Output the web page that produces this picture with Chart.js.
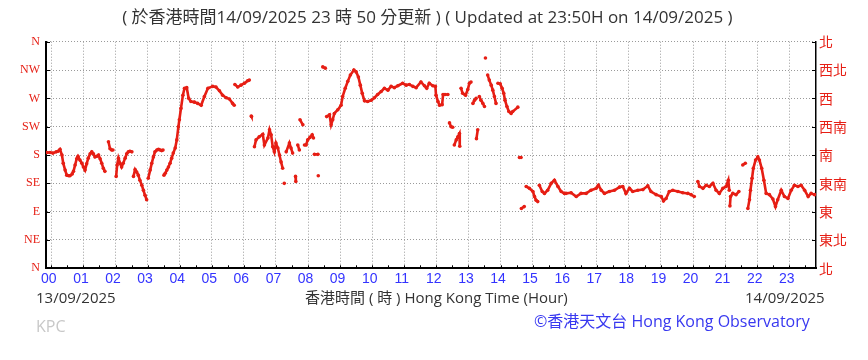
<!DOCTYPE html>
<html>
<head>
<meta charset="utf-8">
<script src="https://cdn.jsdelivr.net/npm/chart.js@4/dist/chart.umd.min.js"></script>
<style>
  html,body{margin:0;padding:0;background:#fff;}
  #wrap{position:relative;width:868px;height:360px;overflow:hidden;}
  canvas{position:absolute;left:0;top:0;}
  .t{position:absolute;white-space:nowrap;font-family:"Open Sans","Noto Sans CJK TC",sans-serif;line-height:1;}
</style>
</head>
<body>
<div id="wrap">
  <canvas id="c" width="868" height="360"></canvas>
  <div class="t" id="d1" style="left:36px;top:290px;font-size:15px;color:#333;">13/09/2025</div>
  <div class="t" id="xt" style="left:305px;top:290px;font-size:15px;color:#333;">香港時間 ( 時 ) Hong Kong Time (Hour)</div>
  <div class="t" id="d2" style="left:745px;top:290px;font-size:15px;color:#333;">14/09/2025</div>
  <div class="t" id="kpc" style="left:36px;top:318px;font-size:16px;color:#c8c8c8;">KPC</div>
  <div class="t" id="cp" style="left:534px;top:313px;font-size:16px;color:#3838f0;">©香港天文台 Hong Kong Observatory</div>
</div>
<script>
// Time in hours relative to 14/09/2025 00:00 (negative = 13/09/2025 late evening)
const hours = [
 -0.14,-0.04,0.05,0.15,0.21,0.27,0.33,0.37,0.43,0.48,0.54,0.58,0.65,0.69,0.74,0.79,0.83,0.89,0.95,1.00,
 1.05,1.10,1.15,1.21,1.26,1.31,1.36,1.42,1.47,1.52,1.57,1.62,1.67,1.78,1.83,1.88,1.92,2.02,2.05,2.09,
 2.14,2.19,2.24,2.30,2.35,2.40,2.45,2.51,2.56,2.61,2.66,2.71,2.76,2.82,2.87,2.92,2.97,3.02,3.08,3.13,
 3.18,3.23,3.29,3.34,3.39,3.44,3.48,3.51,3.55,3.60,3.65,3.70,3.75,3.80,3.86,3.91,3.96,3.99,4.04,4.10,
 4.15,4.22,4.28,4.35,4.46,4.56,4.67,4.77,4.88,5.03,5.13,5.24,5.34,5.45,5.55,5.65,5.70,5.72,5.81,5.91,
 6.02,6.12,6.17,6.23,6.24,6.33,6.38,6.48,6.59,6.64,6.75,6.80,6.85,6.90,6.95,7.00,7.06,7.11,7.16,7.21,
 7.26,7.32,7.42,7.47,7.52,7.61,7.62,7.68,7.73,7.75,7.84,7.89,7.94,7.99,8.06,8.13,8.17,8.20,8.31,8.32,
 8.46,8.54,8.58,8.67,8.72,8.77,8.82,8.93,9.03,9.08,9.16,9.24,9.32,9.43,9.50,9.57,9.63,9.69,9.76,9.86,
 9.97,10.07,10.17,10.28,10.38,10.49,10.59,10.69,10.80,10.95,11.06,11.16,11.27,11.37,11.52,11.63,11.70,11.78,11.89,11.97,
 11.99,12.05,12.10,12.18,12.21,12.27,12.36,12.41,12.46,12.51,12.56,12.62,12.67,12.72,12.73,12.77,12.82,12.91,12.98,13.03,
 13.08,13.14,13.19,13.24,13.25,13.29,13.34,13.39,13.45,13.50,13.53,13.60,13.65,13.71,13.76,13.81,13.86,13.92,13.99,14.05,
 14.10,14.14,14.20,14.26,14.33,14.38,14.54,14.59,14.64,14.65,14.74,14.80,14.90,15.01,15.06,15.11,15.16,15.21,15.30,15.37,
 15.47,15.58,15.68,15.79,15.89,15.99,16.04,16.20,16.36,16.51,16.67,16.82,16.98,17.05,17.14,17.24,17.39,17.55,17.71,17.81,
 17.91,18.02,18.12,18.28,18.44,18.59,18.69,18.85,19.01,19.08,19.16,19.26,19.37,19.53,19.68,19.84,19.94,20.04,20.15,20.20,
 20.31,20.41,20.51,20.62,20.72,20.82,20.93,21.03,21.10,21.13,21.15,21.17,21.24,21.34,21.43,21.55,21.63,21.71,21.76,21.79,
 21.84,21.88,21.95,22.02,22.07,22.14,22.21,22.28,22.38,22.49,22.57,22.64,22.75,22.85,22.96,23.06,23.16,23.27,23.37,23.48,
 23.59,23.68,23.79
];
// Wind direction in degrees
const directions = [
 184,184,183,185,186,189,180,167,156,148,147,147,150,154,164,174,178,172,167,161,
 156,166,175,182,185,182,177,178,180,174,167,159,154,201,190,188,188,146,164,175,
 167,161,167,175,182,185,186,185,146,157,153,148,140,132,124,116,109,143,156,167,
 177,185,188,189,188,187,188,148,151,156,161,167,175,183,191,204,225,236,254,275,
 286,287,270,265,264,262,259,273,286,289,288,282,275,271,269,262,259,292,288,291,
 294,298,299,242,241,193,204,209,213,196,207,220,212,193,185,199,191,180,169,159,
 135,185,199,191,183,146,138,196,188,236,228,196,196,204,208,212,207,181,181,147,
 320,318,241,244,228,236,246,252,259,273,286,297,307,315,312,304,291,278,266,265,
 267,271,276,281,286,283,289,287,290,294,291,292,289,287,296,290,286,294,290,289,
 275,265,259,260,276,276,276,231,225,224,196,204,209,214,194,286,278,275,284,294,
 296,262,267,270,206,220,273,267,262,257,334,307,299,291,283,273,262,294,293,286,
 278,267,257,249,246,249,256,176,176,95,98,130,127,122,114,108,106,132,122,119,
 124,135,140,130,122,119,119,120,114,119,119,124,127,132,124,119,122,124,129,130,
 119,127,122,124,125,131,122,117,114,107,111,122,124,122,120,119,117,114,138,130,
 127,132,130,135,124,119,127,130,140,124,99,114,119,117,122,164,167,95,109,124,
 143,159,172,177,172,159,140,119,117,110,98,109,124,114,111,124,132,130,132,124,
 114,119,117
];
const hourTicks = [0,1,2,3,4,5,6,7,8,9,10,11,12,13,14,15,16,17,18,19,20,21,22,23];
const hourLabels = ['00','01','02','03','04','05','06','07','08','09','10','11','12','13','14','15','16','17','18','19','20','21','22','23'];
const dirTicks = [0,45,90,135,180,225,270,315,360];
const dirLabelsEn = ['N','NE','E','SE','S','SW','W','NW','N'];
const dirLabelsZh = ['北','東北','東','東南','南','西南','西','西北','北'];
const titleText = '( 於香港時間14/09/2025 23 時 50 分更新 ) ( Updated at 23:50H on 14/09/2025 )\u00a0\u00a0\u00a0';

const RED = '#e61e14';
const BLUE = '#3333ff';
const GRID = '#9a9a9a';

const points = hours.map((h,i)=>({x:h,y:directions[i]}));

// small inner tick marks drawn at the scale's own tick positions
const axisMarks = {
  id: 'axisMarks',
  afterDraw(chart) {
    const {ctx, chartArea: a, scales: {x, y}} = chart;
    ctx.save();
    ctx.strokeStyle = '#000';
    ctx.lineWidth = 1;
    ctx.beginPath();
    dirTicks.forEach(v => {
      const py = Math.round(y.getPixelForValue(v)) + 0.5;
      ctx.moveTo(a.left, py); ctx.lineTo(a.left + 4, py);
      ctx.moveTo(a.right - 4, py); ctx.lineTo(a.right, py);
    });
    hourTicks.forEach(v => {
      [v, v + 0.5].forEach(t => {
        if (t > x.max) return;
        const px = Math.round(x.getPixelForValue(t)) + 0.5;
        ctx.moveTo(px, a.bottom); ctx.lineTo(px, a.bottom - 3);
      });
    });
    ctx.stroke();
    ctx.restore();
  }
};

new Chart(document.getElementById('c'), {
  type: 'scatter',
  data: { datasets: [{
    data: points,
    backgroundColor: RED,
    borderColor: RED,
    borderWidth: 2.6,
    pointRadius: 1.8,
    pointBorderWidth: 0,
    pointHoverRadius: 1.8,
    showLine: true,
    segment: {
      borderColor: c => {
        const dt = c.p1.parsed.x - c.p0.parsed.x;
        const dd = Math.abs(c.p1.parsed.y - c.p0.parsed.y);
        return (dt <= 0.17 && dd <= 22) ? RED : 'rgba(0,0,0,0)';
      }
    }
  }]},
  options: {
    responsive: false,
    devicePixelRatio: 1,
    animation: false,
    events: [],
    layout: { padding: { left: 0, right: 0, top: 0, bottom: 0 } },
    plugins: {
      legend: { display: false },
      tooltip: { enabled: false },
      title: {
        display: true,
        text: titleText,
        color: '#333',
        font: { family: '"Open Sans","Noto Sans CJK TC",sans-serif', size: 17, weight: 'normal', lineHeight: 1.2 },
        padding: { top: 8, bottom: 13.3 }
      }
    },
    scales: {
      x: {
        type: 'linear',
        min: -1/6,
        max: 23 + 50/60,
        afterBuildTicks: s => { s.ticks = hourTicks.map(v => ({ value: v })); },
        afterFit: s => { s.height = 91.7; },
        ticks: {
          color: BLUE,
          font: { family: '"Liberation Sans",sans-serif', size: 14 },
          padding: 2,
          labelOffset: -2.5,
          maxRotation: 0,
          autoSkip: false,
          callback: (v) => hourLabels[hourTicks.indexOf(v)]
        },
        grid: { color: GRID, lineWidth: 1, drawTicks: false },
        border: { display: true, color: '#000', width: 2, dash: [1, 2] }
      },
      y: {
        type: 'linear',
        position: 'left',
        min: 0,
        max: 360,
        afterBuildTicks: s => { s.ticks = dirTicks.map(v => ({ value: v })); },
        afterFit: s => { s.width = 46; },
        ticks: {
          color: RED,
          font: { family: '"Liberation Serif",serif', size: 12 },
          padding: 6,
          autoSkip: false,
          callback: (v) => dirLabelsEn[dirTicks.indexOf(v)]
        },
        grid: { color: GRID, lineWidth: 1, drawTicks: false },
        border: { display: true, color: '#000', width: 2, dash: [1, 2] }
      },
      y2: {
        type: 'linear',
        position: 'right',
        min: 0,
        max: 360,
        afterBuildTicks: s => { s.ticks = dirTicks.map(v => ({ value: v })); },
        afterFit: s => { s.width = 52; },
        ticks: {
          color: RED,
          font: { family: '"Noto Sans CJK TC",sans-serif', size: 14 },
          padding: 3,
          autoSkip: false,
          callback: (v) => dirLabelsZh[dirTicks.indexOf(v)]
        },
        grid: { display: false, drawOnChartArea: false, drawTicks: false },
        border: { display: true, color: '#000', width: 1.5 }
      }
    }
  },
  plugins: [axisMarks]
});
</script>
</body>
</html>
